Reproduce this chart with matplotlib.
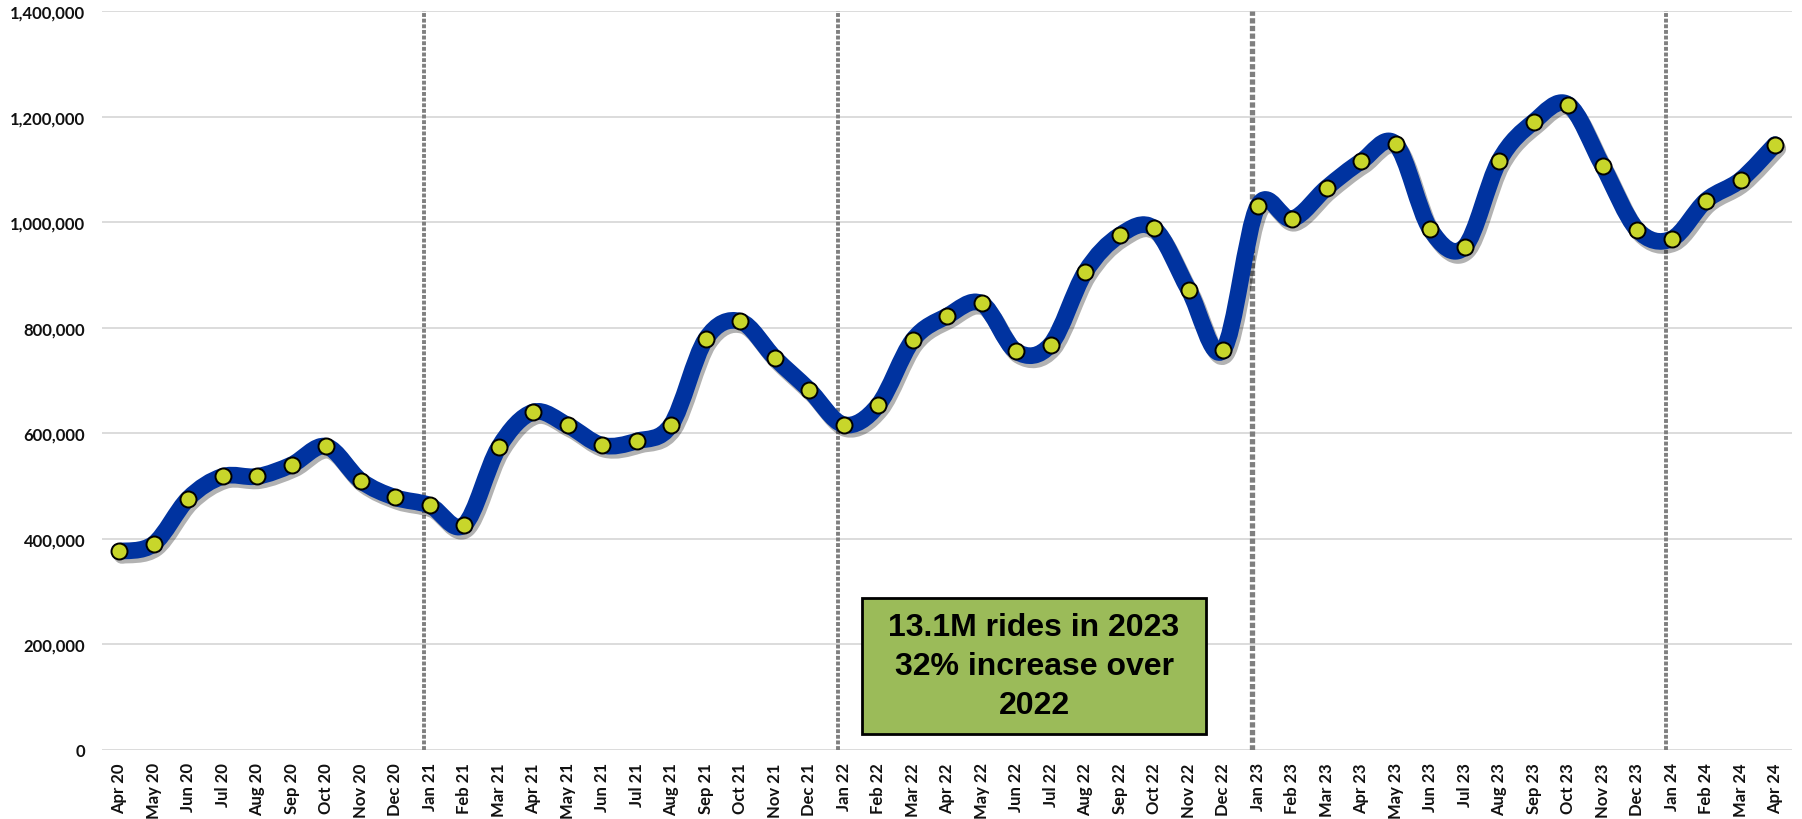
import numpy as np
import matplotlib
matplotlib.use("Agg")
import matplotlib.pyplot as plt
from matplotlib.path import Path
from matplotlib.patches import PathPatch, Rectangle
import matplotlib.patheffects as pe
from matplotlib.ticker import FuncFormatter

# monthly ridership, Apr 2020 .. Apr 2024
month_names = ["Jan", "Feb", "Mar", "Apr", "May", "Jun",
               "Jul", "Aug", "Sep", "Oct", "Nov", "Dec"]
labels = [f"{month_names[(m - 1) % 12]} {20 + (m - 1) // 12}" for m in range(4, 53)]

rides = [376000, 390000, 476000, 518000, 518000, 540000, 575000, 510000, 478000,
         463000, 426000, 573000, 640000, 615000, 577000, 585000, 616000, 778000,
         812000, 743000, 682000,
         616000, 653000, 776000, 822000, 846000, 755000, 768000, 905000, 975000,
         988000, 872000, 757000,
         1030000, 1006000, 1065000, 1115000, 1148000, 987000, 953000, 1116000,
         1190000, 1223000, 1107000, 986000,
         968000, 1041000, 1080000, 1147000]

year_starts = ["Jan 21", "Jan 22", "Jan 23", "Jan 24"]
note = "13.1M rides in 2023\n32% increase over\n2022"

fig = plt.figure(figsize=(18.02, 8.2), dpi=100)
ax = fig.add_axes([0.0566, 0.0846, 0.938, 0.9006])

n = len(rides)
pts = np.column_stack([np.arange(n, dtype=float), np.array(rides, dtype=float)])

# smoothed line like Excel's "smoothed line" option (cubic bezier segments)
verts = [pts[0]]
codes = [Path.MOVETO]
for i in range(n - 1):
    p0 = pts[max(i - 1, 0)]
    p1 = pts[i]
    p2 = pts[i + 1]
    p3 = pts[min(i + 2, n - 1)]
    verts += [p1 + (p2 - p0) / 6, p2 - (p3 - p1) / 6, p2]
    codes += [Path.CURVE4] * 3
curve = PathPatch(Path(verts, codes), facecolor="none", edgecolor="#0033A0",
                  lw=12, capstyle="round", joinstyle="round", zorder=3)
curve.set_path_effects([pe.SimpleLineShadow(offset=(2, -3), shadow_color="k", alpha=0.3),
                        pe.Normal()])
ax.add_patch(curve)

ax.plot(pts[:, 0], pts[:, 1], ls="none", marker="o", ms=11.5,
        mfc="#C8D62B", mec="black", mew=1.4, zorder=4)

# year separators
for lab in year_starts:
    xi = labels.index(lab) - 0.17
    ax.plot([xi, xi], [0, 1400000], color="#7F7F7F", lw=2.8 if lab != "Jan 23" else 3.8,
            ls=(0, (1, 0.45)), zorder=2)

# annotation box
ax.add_patch(Rectangle((21.53, 29800), 9.97, 257800, facecolor="#9BBB59",
                       edgecolor="black", lw=2, zorder=5))
ax.text(26.52, 158000, note, ha="center", va="center", fontsize=23,
        fontweight="bold", family="Liberation Sans", linespacing=1.4, zorder=6)

ax.set_xlim(-0.5, n - 0.5)
ax.set_ylim(0, 1400000)
ax.set_yticks(np.arange(0, 1400001, 200000))
ax.yaxis.set_major_formatter(FuncFormatter(lambda v, p: f"{int(v):,}"))
ax.set_xticks(np.arange(n))
ax.set_xticklabels(labels, rotation=90)
for t in ax.get_xticklabels() + ax.get_yticklabels():
    t.set_fontfamily("Lato")
    t.set_fontweight("bold")
    t.set_fontsize(12)
    t.set_color("#111111")
ax.tick_params(axis="both", length=0)
ax.tick_params(axis="y", pad=12)
ax.tick_params(axis="x", pad=9)

ax.yaxis.grid(True, color="#D9D9D9", lw=1.3)
ax.set_axisbelow(True)
for s in ax.spines.values():
    s.set_visible(False)

fig.savefig("out.png", dpi=100)
